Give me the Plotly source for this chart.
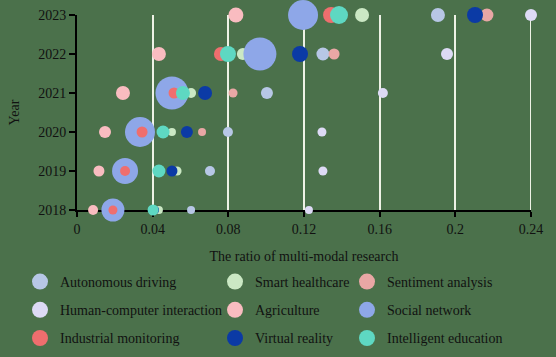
import plotly.graph_objects as go

years = [2018, 2019, 2020, 2021, 2022, 2023]
series_names = [
    "Autonomous driving", "Smart healthcare", "Sentiment analysis",
    "Human-computer interaction", "Agriculture", "Social network",
    "Industrial monitoring", "Virtual reality", "Intelligent education",
]

# ratio of multi-modal research, per year 2018..2023
autonomous_ratio = [0.0603, 0.0703, 0.0798, 0.1004, 0.1300, 0.1908]
healthcare_ratio = [0.0433, 0.0529, 0.0502, 0.0603, 0.0877, 0.1507]
sentiment_ratio = [0.0180, 0.0250, 0.0661, 0.0825, 0.1359, 0.2167]
hci_ratio = [0.1226, 0.1300, 0.1295, 0.1617, 0.1956, 0.2400]
agriculture_ratio = [0.0085, 0.0116, 0.0148, 0.0243, 0.0433, 0.0840]
social_ratio = [0.0190, 0.0254, 0.0333, 0.0502, 0.0967, 0.1195]
industrial_ratio = [0.0190, 0.0254, 0.0344, 0.0513, 0.0761, 0.1343]
vr_ratio = [0.0412, 0.0502, 0.0581, 0.0677, 0.1179, 0.2104]
education_ratio = [0.0402, 0.0433, 0.0455, 0.0560, 0.0798, 0.1385]

# bubble magnitude (relative volume of research), per year 2018..2023
autonomous_volume = [40, 50, 50, 60, 65, 70]
healthcare_volume = [40, 45, 40, 50, 60, 70]
sentiment_volume = [30, 35, 40, 45, 55, 65]
hci_volume = [40, 45, 45, 50, 60, 60]
agriculture_volume = [50, 55, 60, 70, 70, 75]
social_volume = [115, 130, 150, 165, 165, 150]
industrial_volume = [45, 50, 55, 55, 70, 80]
vr_volume = [40, 55, 60, 70, 80, 80]
education_volume = [55, 65, 65, 70, 80, 90]

x_tick_values = [0, 0.04, 0.08, 0.12, 0.16, 0.2, 0.24]
x_tick_labels = ["0", "0.04", "0.08", "0.12", "0.16", "0.2", "0.24"]

ratios = [autonomous_ratio, healthcare_ratio, sentiment_ratio, hci_ratio,
          agriculture_ratio, social_ratio, industrial_ratio, vr_ratio, education_ratio]
volumes = [autonomous_volume, healthcare_volume, sentiment_volume, hci_volume,
           agriculture_volume, social_volume, industrial_volume, vr_volume, education_volume]

colors = ["#b7c7e6", "#cbe8c4", "#e9a7a5", "#dddaf5", "#f9bcc0",
          "#8ea7e8", "#ef6e6e", "#0b3aa5", "#5ed8c2"]

FONT = "Liberation Serif"
BG = "#4b714b"
GRID = "#eef2e6"

fig = go.Figure()
legends = ["legend", "legend2", "legend3"]
for i, name in enumerate(series_names):
    fig.add_trace(go.Scatter(
        x=ratios[i], y=years, mode="markers", name=name,
        legend=legends[i % 3], legendgroup=name,
        cliponaxis=False,
        marker=dict(color=colors[i], size=volumes[i], sizemode="diameter",
                    sizeref=5, opacity=1, line=dict(width=0)),
        hoverinfo="x+y+name",
    ))

# gridline at the right end of the axis (plotly omits it at the range edge)
fig.add_shape(type="line", xref="x", yref="y", layer="below",
              x0=x_tick_values[-1], x1=x_tick_values[-1],
              y0=years[0], y1=years[-1], line=dict(color=GRID, width=2))

W, H = 556, 357
L, R, T, B = 77, 25, 15, 147
pw, ph = W - L - R, H - T - B


def px_x(px):
    return (px - L) / pw


def px_y(py):
    return (H - B - py) / ph


leg_common = dict(
    xanchor="left", yanchor="top",
    orientation="v", bgcolor="rgba(0,0,0,0)", borderwidth=0,
    font=dict(family=FONT, size=14, color="#111111"),
    tracegroupgap=7, itemsizing="trace", traceorder="grouped",
)
legtop = px_y(266)
fig.update_layout(
    width=W, height=H,
    margin=dict(l=L, r=R, t=T, b=B, autoexpand=False),
    paper_bgcolor=BG, plot_bgcolor=BG,
    font=dict(family=FONT, size=14, color="#111111"),
    showlegend=True,
    legend=dict(leg_common, x=px_x(20), y=legtop),
    legend2=dict(leg_common, x=px_x(215), y=legtop),
    legend3=dict(leg_common, x=px_x(347), y=legtop),
    xaxis=dict(
        range=[0, 0.24], tickvals=x_tick_values, ticktext=x_tick_labels,
        showgrid=True, gridcolor=GRID, gridwidth=2, zeroline=False,
        showline=True, linecolor="#000000", linewidth=2,
        ticks="outside", ticklen=5, tickwidth=2, tickcolor="#000000",
        layer="below traces", automargin=False,
        title=dict(text="The ratio of multi-modal research", font=dict(size=14)),
        tickfont=dict(size=14, color="#111111"), fixedrange=True,
    ),
    yaxis=dict(
        range=[2018, 2023], tickvals=years, ticktext=[str(y) for y in years],
        showgrid=False, zeroline=False,
        showline=True, linecolor="#000000", linewidth=2,
        ticks="outside", ticklen=6, tickwidth=2, tickcolor="#000000",
        layer="below traces", automargin=False,
        title=dict(text="Year", font=dict(size=14)),
        tickfont=dict(size=14, color="#111111"), fixedrange=True,
    ),
)
fig.write_html("out.html", config={"displayModeBar": False},
               post_script="document.body.style.margin='0';")
